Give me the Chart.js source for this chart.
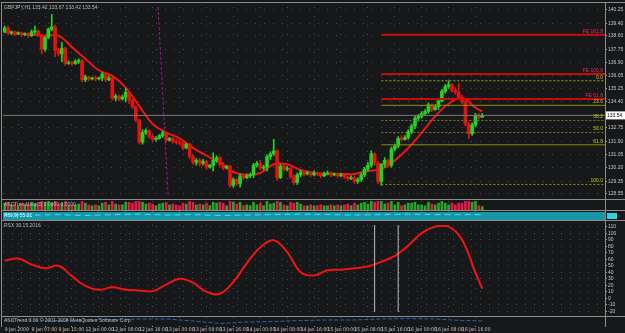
<!DOCTYPE html>
<html>
<head>
<meta charset="utf-8">
<script src="https://cdn.jsdelivr.net/npm/chart.js@4.4.1/dist/chart.umd.min.js"></script>
<style>
  body { margin: 0; background: #17181a; }
  #wrap { position: relative; width: 625px; height: 333px; background: #17181a; overflow: hidden; font-family: "Liberation Sans", Arial, sans-serif; }
  canvas { position: absolute; left: 0; }
  .rule { position: absolute; background: #8c8c8c; }
  .lbl { position: absolute; font-size: 5px; line-height: 5px; color: #b8b8b8; white-space: nowrap; }
</style>
</head>
<body>
<div id="wrap">
  <div style="position:absolute;left:3px;top:212px;width:602px;height:8px;background:#1796a6"></div>
  <div style="position:absolute;left:607px;top:213px;width:10px;height:6px;background:#2fd2e2"></div>

  <canvas id="main" width="625" height="196" style="top:3px"></canvas>
  <canvas id="osc" width="625" height="9" style="top:201px"></canvas>
  <canvas id="band" width="625" height="9" style="top:211px"></canvas>
  <canvas id="rsx" width="625" height="95" style="top:221px"></canvas>
  <canvas id="trend" width="625" height="16" style="top:317px"></canvas>

  <div class="rule" style="left:1px;top:2px;width:1px;height:325px"></div>
  <div class="rule" style="left:605px;top:2px;width:1px;height:325px"></div>
  <div class="rule" style="left:1px;top:2px;width:624px;height:1px"></div>
  <div class="rule" style="left:1px;top:199px;width:624px;height:1px"></div>
  <div class="rule" style="left:1px;top:210px;width:624px;height:1px"></div>
  <div class="rule" style="left:1px;top:220px;width:624px;height:1px"></div>
  <div class="rule" style="left:1px;top:316px;width:624px;height:1px"></div>

  <div class="lbl" style="left:4px;top:5px">GBPJPY,H1  133.42 133.67 133.42 133.54</div>
  <div class="lbl" style="left:4px;top:202px">ASCTrend1sig(3) 0.0000 0.0000</div>
  <div class="lbl" style="left:4px;top:213px;color:#e8f8fa">RSI(9) 55.21</div>
  <div class="lbl" style="left:4px;top:223px">RSX 30  15.2016</div>
  <div class="lbl" style="left:4px;top:318px">ASCTrend 0.00  &copy; 2001-2008 MetaQuotes Software Corp.</div>
</div>

<script>
// GBPJPY H1 candles (bar 0 .. 142)
const opens = [
  138.85,139.10,138.79,138.85,138.73,138.79,138.67,138.73,138.61,138.85,
  138.91,138.61,137.75,138.49,139.03,139.16,137.69,137.45,137.81,136.84,
  136.90,136.84,136.96,137.02,135.80,135.98,135.86,135.92,135.86,135.92,
  136.17,135.80,135.92,134.64,134.76,134.58,134.70,135.01,134.52,134.09,
  133.24,131.84,132.45,132.57,132.20,132.02,132.08,132.26,132.45,131.96,
  132.08,131.90,131.84,131.77,131.47,131.71,130.92,130.55,130.68,130.49,
  130.62,130.25,130.37,130.68,130.86,130.43,130.19,130.31,129.09,129.46,
  129.21,129.70,129.58,129.70,129.76,130.37,130.49,130.19,130.25,130.92,
  131.10,131.29,129.58,130.31,130.13,130.19,129.64,129.27,129.76,129.94,
  129.82,129.88,129.76,129.88,129.82,129.70,129.82,129.88,129.76,129.82,
  129.70,129.76,129.64,129.52,129.58,129.34,129.46,129.76,130.13,130.37,
  131.10,130.49,129.34,130.43,130.68,130.37,131.41,131.59,132.08,132.02,
  132.14,132.51,132.87,133.36,133.48,133.67,133.79,134.22,133.91,134.09,
  134.46,135.07,135.37,135.50,135.13,135.01,134.70,134.40,132.99,132.38,
  132.93,133.54,133.42
];
const highs = [
  139.22,139.22,138.91,138.91,138.85,138.85,138.79,138.79,138.97,139.22,
  138.97,138.67,138.55,139.10,139.95,139.28,137.81,138.18,137.88,137.02,
  136.96,137.08,137.14,137.08,136.11,136.05,135.98,136.05,135.98,136.29,
  136.23,136.05,136.11,134.89,134.83,134.83,135.25,135.07,134.58,134.15,
  133.30,132.63,132.69,132.63,132.32,132.20,132.32,132.57,132.51,132.14,
  132.14,132.02,131.96,131.90,131.77,131.77,131.04,130.80,130.80,130.74,
  130.68,130.43,131.16,130.98,130.92,130.55,130.37,130.37,129.58,129.52,
  129.82,129.76,129.82,129.88,130.49,130.62,130.68,130.37,131.04,131.23,
  132.02,131.35,130.43,130.43,130.31,130.25,129.76,129.88,130.07,130.01,
  130.01,129.94,130.01,129.94,129.88,129.94,130.01,129.94,129.88,129.88,
  129.88,129.82,129.70,129.70,129.70,129.58,129.88,130.25,130.55,131.29,
  131.16,130.62,130.49,130.86,130.74,131.53,131.71,132.20,132.26,132.26,
  132.63,132.99,133.48,133.61,133.79,133.91,134.34,134.28,134.22,134.58,
  135.19,135.50,135.74,135.56,135.31,135.56,134.83,134.52,133.12,133.06,
  133.67,133.67,133.67
];
const lows = [
  138.79,138.67,138.67,138.61,138.67,138.55,138.61,138.49,138.55,138.73,
  138.55,137.45,137.63,138.42,138.91,137.27,137.33,136.96,136.72,136.78,
  136.72,136.78,136.84,135.68,135.68,135.74,135.80,135.74,135.80,135.74,
  135.68,135.74,134.52,134.46,134.46,134.52,134.40,134.28,133.97,133.12,
  131.71,131.71,132.32,132.08,131.90,131.90,132.02,132.14,131.84,131.90,
  131.77,131.71,131.65,131.35,131.41,130.80,130.43,130.37,130.31,130.37,
  130.13,130.19,130.01,130.55,130.31,130.07,130.13,128.97,128.97,129.09,
  128.97,129.46,129.52,129.58,129.58,130.25,130.07,130.07,130.01,130.74,
  130.98,129.40,129.52,130.01,130.01,129.52,129.15,129.15,129.64,129.70,
  129.76,129.64,129.70,129.70,129.58,129.64,129.76,129.64,129.70,129.58,
  129.64,129.52,129.40,129.46,129.21,129.21,129.34,129.64,130.01,130.25,
  130.37,129.21,129.09,130.25,130.25,130.25,131.29,131.47,131.90,131.96,
  132.02,132.38,132.69,133.18,133.36,133.54,133.67,133.79,133.85,133.91,
  134.40,134.95,135.25,135.01,134.89,134.64,134.28,132.87,132.08,132.26,
  132.81,133.30,133.42
];
const closes = [
  139.10,138.79,138.85,138.73,138.79,138.67,138.73,138.61,138.85,138.91,
  138.61,137.75,138.49,139.03,139.16,137.69,137.45,137.81,136.84,136.90,
  136.84,136.96,137.02,135.80,135.98,135.86,135.92,135.86,135.92,136.17,
  135.80,135.92,134.64,134.76,134.58,134.70,135.01,134.52,134.09,133.24,
  131.84,132.45,132.57,132.20,132.02,132.08,132.26,132.45,131.96,132.08,
  131.90,131.84,131.77,131.47,131.71,130.92,130.55,130.68,130.49,130.62,
  130.25,130.37,130.68,130.86,130.43,130.19,130.31,129.09,129.46,129.21,
  129.70,129.58,129.70,129.76,130.37,130.49,130.19,130.25,130.92,131.10,
  131.29,129.58,130.31,130.13,130.19,129.64,129.27,129.76,129.94,129.82,
  129.88,129.76,129.88,129.82,129.70,129.82,129.88,129.76,129.82,129.70,
  129.76,129.64,129.52,129.58,129.34,129.46,129.76,130.13,130.37,131.10,
  130.49,129.34,130.43,130.68,130.37,131.41,131.59,132.08,132.02,132.14,
  132.51,132.87,133.36,133.48,133.67,133.79,134.22,133.91,134.09,134.46,
  135.07,135.37,135.50,135.13,135.01,134.70,134.40,132.99,132.38,132.93,
  133.54,133.42,133.54
];

// moving average, read every 4 bars
const maBars = [0,4,8,12,16,20,24,28,32,36,40,44,48,52,56,60,64,68,72,76,80,84,88,92,96,100,104,108,112,116,120,124,128,132,136,140,142];
const maValues = [138.85,138.73,138.67,138.61,138.61,137.88,137.14,136.41,136.05,135.31,134.15,132.99,132.45,132.08,131.47,130.98,130.55,129.94,129.76,129.88,130.43,130.43,130.07,129.88,129.82,129.82,129.82,130.01,130.13,130.68,131.47,132.45,133.48,134.28,134.64,134.03,133.79];

// fibonacci retracement + expansion drawn from bar 112
const fibStartBar = 112;
const fibLevels = [135.74, 134.18, 133.22, 132.45, 131.67, 129.15];
const fibNames = ['0.0', '23.6', '38.2', '50.0', '61.8', '100.0'];
const feLevels = [138.67, 136.17, 134.58];
const feNames = ['FE 161.8', 'FE 100.0', 'FE 61.8'];
const lastPrice = 133.54;
const trendBars = [45.6, 48.6];
const trendPrices = [140.43, 128.48];

const priceTicks = [140.25,139.40,138.60,137.75,136.90,136.05,135.25,134.40,132.75,131.90,131.05,130.20,129.35,128.55];
const timeTickBars = [0,8,16,24,32,40,48,56,64,72,80,88,96,104,112,120,128,136];
const timeLabels = ['9 Jan 2009','9 Jan 07:00','9 Jan 15:00','12 Jan 00:00','12 Jan 08:00','12 Jan 16:00','13 Jan 00:00','13 Jan 08:00','13 Jan 16:00','14 Jan 00:00','14 Jan 08:00','14 Jan 16:00','15 Jan 00:00','15 Jan 08:00','15 Jan 16:00','16 Jan 00:00','16 Jan 08:00','16 Jan 16:00'];

// histogram panel (+ up / - down)
const oscValues = [
  .8,-.9,.6,-.7,.5,-.8,.6,-.7,.9,.7, -.8,-1,.9,1,.8,-1,-.7,.8,-1,.5,
  -.6,.6,.7,-1,.8,-.6,.5,-.6,.5,.8, -.9,.6,-1,.7,-.6,.6,.9,-.9,-.8,-1,
  -1,.9,.7,-.8,-.7,.5,.7,.8,-.9,.6, -.7,-.6,-.5,-.8,.7,-1,-.9,.6,-.7,.6,
  -.8,.5,.9,.8,-.9,-.8,.5,-1,.9,-.7, .9,-.5,.6,.5,.9,.6,-.8,.5,1,.7,
  .8,-1,.9,-.6,.5,-.9,-.8,.9,.7,-.5, .5,-.6,.5,-.5,-.6,.5,.5,-.6,.5,-.6,
  .5,-.6,-.7,.5,-.8,.6,.8,.9,.7,1, -.9,-1,1,.7,-.8,1,.6,.9,-.5,.6,
  .8,.8,.9,.6,.6,.5,.9,-.7,.6,.8, 1,.8,.6,-.8,-.6,-.8,-.8,-1,-1,.9,
  1,-.5,.4
];

// RSX line, read every 4 bars
const rsxBars = maBars;
const rsxValues = [58,61,52,46,50,34,19,13,17,13,12,11,21,30,24,10,7,25,54,78,89,71,40,35,43,44,46,49,56,65,81,100,110,110,90,39,15];
const rsxTicks = [110,100,90,80,70,60,50,40,30,20,10,0,-10,-20];
const markerBars = [110, 117];

// cyan band and bottom trend line, read every 8 bars
const sparseBars = [0,8,16,24,32,40,48,56,64,72,80,88,96,104,112,120,128,136,142];
const bandValues = [.6,.55,.6,.5,.6,.65,.55,.6,.5,.55,.6,.65,.6,.55,.6,.65,.6,.6,.6];
const trendValues = [.67,.67,.61,.67,.72,.78,.78,.56,.28,.44,.5,.61,.67,.67,.78,.83,.78,.61,.56];

const FONT = '"Liberation Sans", Arial, sans-serif';
const NARROW = '"Liberation Sans Narrow", "DejaVu Sans Condensed", "Liberation Sans", sans-serif';
const X_MIN = -0.5, X_MAX = 178.5;
const GRID = '#464b52';
const UP = '#22d422', DOWN = '#e81010';
Chart.defaults.font.family = FONT;

function xAxis(showLabels) {
  return {
    type: 'linear', min: X_MIN, max: X_MAX, offset: false,
    afterBuildTicks: s => { s.ticks = timeTickBars.map(v => ({ value: v })); },
    afterFit: s => { s.height = showLabels ? 7 : 0; },
    grid: { color: GRID, drawTicks: showLabels, tickLength: 1, tickColor: '#999' },
    border: { display: false, dash: [1, 8] },
    ticks: {
      display: showLabels, color: '#c4c4c4', font: { size: 5, family: NARROW }, padding: 0,
      maxRotation: 0, autoSkip: false, align: 'start',
      callback: v => timeLabels[timeTickBars.indexOf(v)] ?? ''
    }
  };
}

function yAxis(min, max, ticks, fmt) {
  return {
    position: 'right', min, max,
    afterBuildTicks: s => { s.ticks = ticks.map(v => ({ value: v })); },
    afterFit: s => { s.width = 20; },
    grid: { color: GRID, tickLength: 2, tickColor: '#999' },
    border: { display: false, dash: [1, 8] },
    ticks: { color: '#c4c4c4', font: { size: 5 }, padding: 1, autoSkip: false, callback: fmt }
  };
}

function makeChart(id, datasets, y, showX, plugins = []) {
  return new Chart(document.getElementById(id), {
    type: 'bar',
    data: { datasets },
    options: {
      responsive: false, animation: false, devicePixelRatio: 1,
      layout: { padding: { left: 3, right: 0, top: 0, bottom: 0 } },
      plugins: { legend: { display: false }, tooltip: { enabled: false } },
      scales: { x: xAxis(showX), y }
    },
    plugins
  });
}

function hLine(level, color, width, dash) {
  return {
    type: 'line', data: [{ x: fibStartBar, y: level }, { x: X_MAX, y: level }],
    borderColor: color, borderWidth: width, borderDash: dash, pointRadius: 0
  };
}

const candleColors = closes.map((c, i) => c >= opens[i] ? UP : DOWN);

// fib text + current price box
const mainLabels = {
  id: 'mainLabels',
  afterDraw(chart) {
    const { ctx, chartArea, scales: { y } } = chart;
    ctx.save();
    ctx.font = '5px ' + FONT;
    ctx.textAlign = 'right';
    ctx.textBaseline = 'bottom';
    fibLevels.forEach((v, i) => {
      ctx.fillStyle = '#c8c800';
      ctx.fillText(fibNames[i], chartArea.right - 2, y.getPixelForValue(v) - 1);
    });
    feLevels.forEach((v, i) => {
      ctx.fillStyle = '#e0306a';
      ctx.fillText(feNames[i], chartArea.right - 2, y.getPixelForValue(v) - 1);
    });
    const py = y.getPixelForValue(lastPrice);
    ctx.fillStyle = '#ffffff';
    ctx.fillRect(chartArea.right + 1, py - 4, 19, 8);
    ctx.fillStyle = '#000000';
    ctx.textAlign = 'left';
    ctx.textBaseline = 'middle';
    ctx.fillText(lastPrice.toFixed(2), chartArea.right + 2, py);
    ctx.restore();
  }
};

makeChart('main', [
  hLine(fibLevels[0], '#a8a800', 1, [2, 2]),
  hLine(fibLevels[1], '#8f8f00', 1, []),
  hLine(fibLevels[2], '#7d7d30', 1, [2, 2]),
  hLine(fibLevels[3], '#7d7d30', 1, [2, 2]),
  hLine(fibLevels[4], '#8f8f00', 1, []),
  hLine(fibLevels[5], '#8f8f00', 1, [2, 2]),
  hLine(feLevels[0], '#c80c0c', 2, []),
  hLine(feLevels[1], '#c80c0c', 2, []),
  hLine(feLevels[2], '#c80c0c', 2, []),
  {
    type: 'line', data: [{ x: X_MIN, y: lastPrice }, { x: X_MAX, y: lastPrice }],
    borderColor: '#7a7a7a', borderWidth: 1, pointRadius: 0
  },
  {
    type: 'line', data: trendBars.map((b, i) => ({ x: b, y: trendPrices[i] })),
    borderColor: '#a0188c', borderWidth: 1, borderDash: [3, 2], pointRadius: 0
  },
  {
    data: closes.map((c, i) => ({ x: i, y: [lows[i], highs[i]] })),
    backgroundColor: candleColors, barThickness: 1, grouped: false
  },
  {
    data: closes.map((c, i) => ({ x: i, y: [opens[i], c] })),
    backgroundColor: candleColors, barThickness: 3, minBarLength: 1, grouped: false
  },
  {
    type: 'line', data: maBars.map((b, i) => ({ x: b, y: maValues[i] })),
    borderColor: '#f01414', borderWidth: 2, tension: 0.4, pointRadius: 0
  }
], yAxis(128.48, 140.43, priceTicks, v => v.toFixed(2)), false, [mainLabels]);

makeChart('osc', [{
  data: oscValues.map((v, i) => ({ x: i, y: Math.abs(v) })),
  backgroundColor: oscValues.map(v => v >= 0 ? '#2aa52a' : '#e8184a'),
  barThickness: 2, grouped: false
}], yAxis(0, 1.05, [], v => ''), false);

makeChart('band', [{
  type: 'line', data: sparseBars.map((b, i) => ({ x: b, y: bandValues[i] })),
  borderColor: '#46e2f0', borderWidth: 1, borderDash: [6, 4], pointRadius: 0
}], yAxis(0, 1, [], v => ''), false);

makeChart('rsx', [
  ...markerBars.map(b => ({
    type: 'line', data: [{ x: b, y: -21 }, { x: b, y: 112.5 }],
    borderColor: '#bdbdbd', borderWidth: 1, pointRadius: 0
  })),
  {
    type: 'line', data: rsxBars.map((b, i) => ({ x: b, y: rsxValues[i] })),
    borderColor: '#f01414', borderWidth: 2, tension: 0.4, pointRadius: 0
  }
], yAxis(-21, 112.5, rsxTicks, v => String(v)), false);

makeChart('trend', [{
  type: 'line', data: sparseBars.map((b, i) => ({ x: b, y: trendValues[i] })),
  borderColor: '#2366b4', borderWidth: 1, borderDash: [4, 2], pointRadius: 0
}], yAxis(0, 1, [], v => ''), true);
</script>
</body>
</html>
